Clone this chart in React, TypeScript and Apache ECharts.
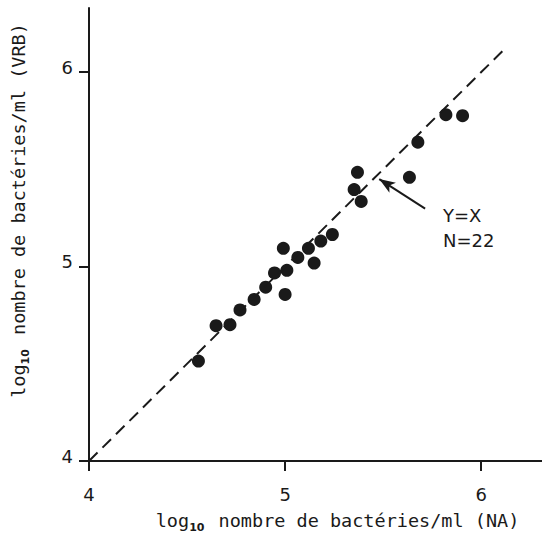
import React, { useEffect, useRef } from "react";
import * as echarts from "echarts";

const naValues = [4.558, 4.648, 4.719, 4.77, 4.842, 4.901, 4.946, 4.991, 5.0, 5.009, 5.065, 5.119, 5.148, 5.182, 5.241, 5.369, 5.352, 5.388, 5.634, 5.677, 5.82, 5.905];
const vrbValues = [4.514, 4.696, 4.701, 4.777, 4.831, 4.894, 4.967, 5.094, 4.857, 4.981, 5.047, 5.094, 5.018, 5.131, 5.165, 5.485, 5.396, 5.335, 5.459, 5.64, 5.781, 5.776];
const tickValues = [4, 5, 6];
const identityLine = [4, 6.13];
const arrowFrom = [5.714, 5.298];
const arrowTo = [5.48, 5.45];
const annotationLines = ["Y=X", "N=22"];

const FONT = "DejaVu Sans";
const MONO = "DejaVu Sans Mono";
const INK = "#1a1a1a";

export default function App() {
  const ref = useRef<HTMLDivElement>(null);
  useEffect(() => {
    if (!ref.current) return;
    const chart = echarts.init(ref.current, null, { renderer: "svg" });
    const points = naValues.map((x, i) => [x, vrbValues[i]]);
    const rich = {
      a: { fontSize: 18.5, fontFamily: MONO, color: INK },
      s: { fontSize: 11, fontFamily: FONT, color: INK, fontWeight: "bold", padding: [15, 3, 0, 0] },
    };
    const axisCommon = {
      type: "value",
      min: 4,
      interval: 1,
      splitLine: { show: false },
      axisLine: { show: true, onZero: false, lineStyle: { color: INK, width: 2 } },
      axisTick: { show: true, inside: false, length: 10, customValues: tickValues, lineStyle: { color: INK, width: 2 } },
      nameLocation: "middle",
    };
    chart.setOption({
      animation: false,
      backgroundColor: "#ffffff",
      grid: { left: 89, right: 0, top: 8, bottom: 73, containLabel: false },
      xAxis: {
        ...axisCommon,
        max: 6.31,
        axisLabel: { customValues: tickValues, margin: 24, fontSize: 18, fontFamily: FONT, color: INK },
        name: "{a|log}{s|10}{a| nombre de bactéries/ml (NA)}",
        nameGap: 46,
        nameTextStyle: { rich, padding: [0, 0, 0, 44] },
      },
      yAxis: {
        ...axisCommon,
        max: 6.33,
        axisLabel: { customValues: tickValues, margin: 16, fontSize: 18, fontFamily: FONT, color: INK, align: "right", verticalAlign: "bottom", lineHeight: 18, padding: [0, 0, -4, 0] },
        name: "{a|log}{s|10}{a| nombre de bactéries/ml (VRB)}",
        nameGap: 58,
        nameTextStyle: { rich, padding: [0, 0, 0, 48] },
      },
      series: [
        {
          type: "line",
          data: identityLine.map((v) => [v, v]),
          symbol: "none",
          lineStyle: { color: INK, width: 2, type: [12, 7] },
          silent: true,
          markLine: {
            silent: true,
            symbol: ["none", "arrow"],
            symbolSize: [9, 16],
            label: { show: false },
            lineStyle: { color: INK, width: 2, type: "solid" },
            data: [[{ coord: arrowFrom }, { coord: arrowTo }]],
          },
        },
        {
          type: "scatter",
          data: points,
          symbol: "circle",
          symbolSize: 13,
          itemStyle: { color: INK, opacity: 1 },
        },
      ],
      graphic: annotationLines.map((t, i) => ({
        type: "text",
        left: 443,
        top: 206 + i * 25,
        style: { text: t, fontSize: 18, fontFamily: FONT, fill: INK },
      })),
    });
    return () => chart.dispose();
  }, []);
  return <div ref={ref} style={{ position: "fixed", left: 0, top: 0, width: 542, height: 538 }} />;
}
